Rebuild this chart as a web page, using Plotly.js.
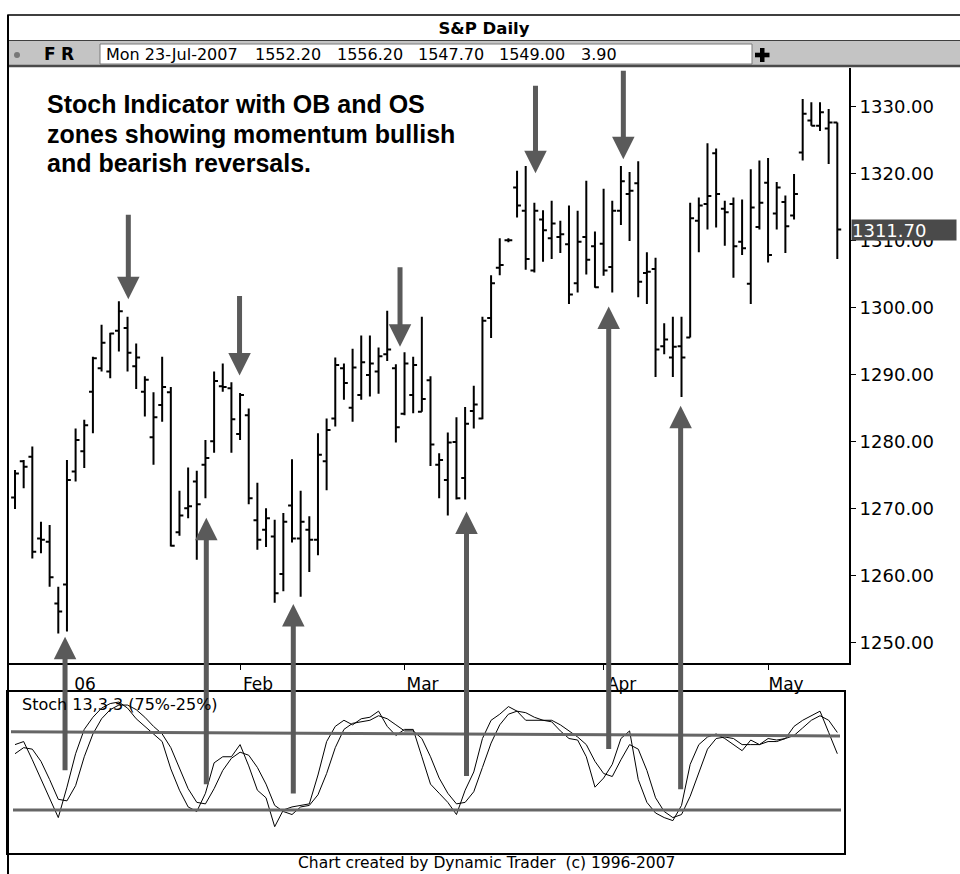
<!DOCTYPE html>
<html><head><meta charset="utf-8">
<script src="https://cdn.plot.ly/plotly-3.0.1.min.js"></script>
<style>html,body{margin:0;padding:0;background:#fff}</style>
</head><body><div id="chart" style="width:960px;height:874px"></div>
<script>
// ---------- DATA ----------
const dates = [
 '2005-12-22','2005-12-23','2005-12-27','2005-12-28','2005-12-29','2005-12-30',
 '2006-01-03','2006-01-04','2006-01-05','2006-01-06','2006-01-09','2006-01-10','2006-01-11','2006-01-12','2006-01-13',
 '2006-01-17','2006-01-18','2006-01-19','2006-01-20','2006-01-23','2006-01-24','2006-01-25','2006-01-26','2006-01-27','2006-01-30','2006-01-31',
 '2006-02-01','2006-02-02','2006-02-03','2006-02-06','2006-02-07','2006-02-08','2006-02-09','2006-02-10','2006-02-13','2006-02-14',
 '2006-02-15','2006-02-16','2006-02-17','2006-02-21','2006-02-22','2006-02-23','2006-02-24','2006-02-27','2006-02-28',
 '2006-03-01','2006-03-02','2006-03-03','2006-03-06','2006-03-07','2006-03-08','2006-03-09','2006-03-10','2006-03-13','2006-03-14',
 '2006-03-15','2006-03-16','2006-03-17','2006-03-20','2006-03-21','2006-03-22','2006-03-23','2006-03-24','2006-03-27','2006-03-28',
 '2006-03-29','2006-03-30','2006-03-31',
 '2006-04-03','2006-04-04','2006-04-05','2006-04-06','2006-04-07','2006-04-10','2006-04-11','2006-04-12','2006-04-13','2006-04-17',
 '2006-04-18','2006-04-19','2006-04-20','2006-04-21','2006-04-24','2006-04-25','2006-04-26','2006-04-27','2006-04-28',
 '2006-05-01','2006-05-02','2006-05-03','2006-05-04','2006-05-05','2006-05-08','2006-05-09','2006-05-10','2006-05-11'
];
const openP = [1271.7,1277.1,1277.8,1265.6,1265.1,1255.9,1258.7,1275.6,1278.6,1287.5,1291.0,1290.5,1296.6,1297.0,1291.3,1287.5,1280.7,1285.5,1287.4,1266.5,1270.1,1274.1,1276.6,1280.1,1288.3,1288.0,1281.2,1284.0,1268.3,1266.9,1265.9,1260.3,1270.5,1265.6,1266.9,1265.4,1277.1,1283.5,1291.0,1285.1,1287.0,1290.0,1290.5,1293.1,1291.0,1284.2,1287.0,1284.5,1289.2,1276.6,1274.3,1280.0,1274.6,1284.6,1283.5,1298.5,1306.0,1310.1,1318.0,1314.5,1305.6,1313.2,1310.4,1310.6,1309.5,1303.7,1310.6,1309.2,1309.6,1306.1,1314.5,1317.0,1318.6,1305.2,1305.8,1294.3,1292.6,1294.3,1295.6,1313.0,1315.5,1323.1,1314.8,1315.5,1309.9,1303.6,1312.1,1318.7,1314.1,1315.8,1313.8,1323.2,1328.0,1327.2,1326.8,1327.7];
const highP = [1275.8,1277.3,1279.3,1268.1,1267.6,1258.4,1277.3,1282.0,1283.3,1292.7,1297.5,1296.3,1301.0,1298.7,1294.7,1289.8,1287.4,1292.7,1288.2,1272.7,1276.2,1275.7,1280.3,1290.5,1291.7,1288.9,1287.3,1285.0,1273.9,1270.1,1268.4,1269.4,1277.4,1272.7,1268.9,1281.3,1283.5,1292.6,1291.7,1293.9,1295.9,1295.9,1294.1,1299.6,1291.6,1293.4,1292.7,1298.7,1289.8,1278.3,1281.4,1283.7,1285.2,1288.4,1298.7,1304.9,1310.4,1310.4,1320.5,1321.2,1315.7,1314.6,1316.0,1313.0,1315.3,1314.5,1319.0,1311.4,1317.8,1316.0,1321.2,1320.3,1321.9,1308.3,1307.5,1297.7,1298.7,1298.7,1315.7,1316.5,1324.6,1323.8,1316.0,1316.5,1316.2,1320.7,1322.0,1322.4,1318.8,1316.8,1320.0,1331.2,1330.7,1330.7,1329.7,1327.7];
const lowP = [1270.0,1273.1,1262.6,1263.4,1258.4,1251.4,1251.7,1274.1,1276.1,1281.3,1290.5,1289.5,1293.5,1290.5,1287.9,1283.8,1276.6,1283.0,1264.4,1266.0,1268.6,1262.4,1271.6,1278.4,1287.5,1278.4,1280.3,1270.7,1263.9,1264.3,1256.0,1257.7,1265.0,1256.9,1260.6,1263.1,1272.8,1282.3,1286.3,1283.0,1286.3,1286.8,1287.2,1292.1,1279.9,1284.0,1284.3,1284.5,1276.4,1271.6,1269.0,1271.4,1271.4,1282.0,1283.4,1295.5,1304.9,1309.8,1313.5,1305.7,1305.3,1306.9,1307.3,1308.2,1300.6,1302.3,1305.0,1303.0,1304.8,1302.3,1312.4,1310.0,1301.6,1300.6,1289.7,1293.1,1289.7,1286.7,1295.6,1308.3,1311.7,1312.0,1309.3,1304.5,1307.9,1300.6,1311.7,1306.8,1311.7,1308.2,1313.2,1322.0,1327.2,1326.4,1321.5,1307.3];
const closeP = [1275.3,1276.3,1263.6,1265.4,1259.8,1254.7,1274.3,1280.3,1282.5,1292.5,1294.8,1296.2,1299.5,1293.3,1292.6,1289.3,1283.7,1288.2,1264.5,1269.0,1270.4,1270.7,1277.6,1289.1,1288.2,1283.4,1287.0,1271.6,1265.4,1268.6,1257.4,1268.1,1265.6,1268.1,1265.4,1278.1,1281.8,1291.5,1288.8,1291.1,1291.9,1291.7,1292.8,1293.8,1282.2,1291.7,1291.5,1286.4,1279.6,1277.3,1279.9,1271.6,1282.7,1285.6,1298.1,1303.7,1306.4,1310.1,1315.3,1307.3,1314.5,1311.6,1312.6,1311.0,1302.0,1309.9,1307.2,1303.1,1305.6,1314.5,1318.9,1317.5,1303.9,1305.4,1293.8,1295.3,1294.2,1292.6,1313.4,1315.3,1316.7,1317.0,1314.3,1309.2,1308.9,1315.0,1315.7,1307.9,1318.0,1312.2,1317.0,1329.0,1327.2,1329.2,1327.7,1311.7];
const stochK = [68,70,58,45,32,20,40,62,78,86,92,95,96,92,85,80,75,70,52,38,27,24,36,56,60,60,68,54,38,33,14,25,27,28,29,48,70,80,84,81,85,86,90,80,74,78,78,60,42,36,30,22,38,50,72,84,88,93,90,84,84,84,83,77,72,71,60,40,46,55,72,77,45,30,23,20,18,28,55,68,73,75,72,68,64,71,68,72,71,72,80,84,87,90,76,62];
const stochD = [62,66,65,57,45,32,31,41,60,75,85,91,94,94,91,86,80,75,66,53,39,30,29,39,51,59,63,61,53,42,28,24,22,27,28,35,49,66,78,82,83,84,87,85,81,77,77,72,60,46,36,29,30,37,53,69,81,88,90,89,86,84,84,81,77,73,68,57,49,47,58,68,65,51,33,24,20,22,34,50,65,72,73,72,68,68,68,70,70,72,74,79,84,87,84,76];
const monthStarts = ['2006-01-03','2006-02-01','2006-03-01','2006-04-03','2006-05-01'];
const monthLabels = ['06','Feb','Mar','Apr','May'];
const priceTicks = [1250,1260,1270,1280,1290,1300,1310,1320,1330];
const lastPrice = 1311.70;
const obLevel = [76.5,73.7];
const osLevel = [25,25];
const quoteFields = ['Mon 23-Jul-2007','1552.20','1556.20','1547.70','1549.00','3.90'];
const noteLines = ['Stoch Indicator with OB and OS','zones showing momentum bullish','and bearish reversals.'];

// ---------- LAYOUT HELPERS ----------
const L=8, R=849, T=68, B=853;
const px = x => (x-L)/(R-L);
const py = y => (B-y)/(B-T);
const FONT = 'DejaVu Sans, Verdana, sans-serif';
const arrowColor = '#5a5a5a';

const traces = [
 {type:'ohlc', x:dates, open:openP, high:highP, low:lowP, close:closeP, xaxis:'x', yaxis:'y',
  increasing:{line:{color:'#000', width:2}}, decreasing:{line:{color:'#000', width:2}},
  tickwidth:0.45, hoverinfo:'skip', showlegend:false},
 {type:'scatter', mode:'lines', x:dates, y:stochK, xaxis:'x2', yaxis:'y2',
  line:{color:'#000', width:1}, hoverinfo:'skip', showlegend:false},
 {type:'scatter', mode:'lines', x:dates, y:stochD, xaxis:'x2', yaxis:'y2',
  line:{color:'#000', width:1}, hoverinfo:'skip', showlegend:false}
];

// arrows: tip in data coordinates (bar index, price), tail offset in px
const upArrows = [[5.78,1250.9,135],[22.1,1268.7,268],[32.15,1255.8,191],[52.16,1269.6,266],[68.59,1300.2,444],[76.9,1285.4,385]];
const downArrows = [[13.09,1301.3,-86],[25.94,1289.9,-81],[44.48,1294.2,-81],[60.13,1320.1,-89],[70.28,1322.2,-90]];

const annotations = [];
upArrows.concat(downArrows).forEach(a => annotations.push({
  x:a[0], y:a[1], xref:'x', yref:'y', text:'', showarrow:true, arrowhead:2, arrowsize:0.9,
  arrowwidth:5, arrowcolor:arrowColor, ax:0, ay:a[2], standoff:0
}));
const noteY = [104,134,163];
noteLines.forEach((t,i) => annotations.push({
  x:px(45), y:py(noteY[i]), xref:'paper', yref:'paper', xanchor:'left', yanchor:'middle',
  text:'<b>'+t+'</b>', showarrow:false, font:{family:'Liberation Sans, Arial, sans-serif', size:25, color:'#000'}
}));
const quoteX = [104,253,335,416,497,579];
quoteFields.forEach((t,i) => annotations.push({
  x:px(quoteX[i]), y:py(54.5), xref:'paper', yref:'paper', xanchor:'left', yanchor:'middle',
  text:t, showarrow:false, font:{family:FONT, size:16, color:'#000'}
}));
annotations.push({x:px(42), y:py(54.5), xref:'paper', yref:'paper', xanchor:'left', yanchor:'middle',
  text:'<b>F</b>', showarrow:false, font:{family:FONT, size:17, color:'#000'}});
annotations.push({x:px(59), y:py(54.5), xref:'paper', yref:'paper', xanchor:'left', yanchor:'middle',
  text:'<b>R</b>', showarrow:false, font:{family:FONT, size:17, color:'#000'}});
annotations.push({x:px(20), y:py(704), xref:'paper', yref:'paper', xanchor:'left', yanchor:'middle',
  text:'Stoch 13,3,3 (75%-25%)', showarrow:false, font:{family:FONT, size:16, color:'#000'}});
annotations.push({x:px(486), y:py(863), xref:'paper', yref:'paper', xanchor:'center', yanchor:'middle',
  text:'Chart created by Dynamic Trader\u00a0\u00a0(c) 1996-2007', showarrow:false, font:{family:FONT, size:15.5, color:'#000'}});
annotations.push({x:1, xshift:2, y:lastPrice, xref:'paper', yref:'y', xanchor:'left', yanchor:'middle',
  text:lastPrice.toFixed(2), showarrow:false, align:'left', width:104, height:20, borderpad:0,
  bgcolor:'#4a4a4a', font:{family:FONT, size:18, color:'#fff'}});

const shapes = [
 // title box
 {type:'rect', xref:'paper', yref:'paper', x0:px(8), x1:px(962), y0:py(41), y1:py(15), fillcolor:'#fff', line:{color:'#000', width:1.5}, layer:'below'},
 // toolbar
 {type:'rect', xref:'paper', yref:'paper', x0:px(8), x1:px(962), y0:py(66), y1:py(41), fillcolor:'#c4c4c4', line:{width:0}, layer:'below'},
 {type:'line', xref:'paper', yref:'paper', x0:px(8), x1:px(962), y0:py(66), y1:py(66), line:{color:'#4a4a4a', width:2.5}},
 {type:'rect', xref:'paper', yref:'paper', x0:px(100), x1:px(752), y0:py(64), y1:py(44), fillcolor:'#fff', line:{color:'#7a7a7a', width:1}, layer:'below'},
 {type:'circle', xref:'paper', yref:'paper', x0:px(14), x1:px(20), y0:py(58), y1:py(52), fillcolor:'#777', line:{width:0}},
 {type:'rect', xref:'paper', yref:'paper', x0:px(760), x1:px(764.5), y0:py(62), y1:py(48), fillcolor:'#000', line:{width:0}},
 {type:'rect', xref:'paper', yref:'paper', x0:px(755), x1:px(769.5), y0:py(57.3), y1:py(52.7), fillcolor:'#000', line:{width:0}},
 // left frame line
 {type:'line', xref:'paper', yref:'paper', x0:px(8), x1:px(8), y0:py(15), y1:py(880), line:{color:'#000', width:2}},
 // OB / OS levels
 {type:'line', xref:'paper', yref:'y2', x0:px(11), x1:px(840), y0:obLevel[0], y1:obLevel[1], line:{color:'#666', width:3}},
 {type:'line', xref:'paper', yref:'y2', x0:px(13), x1:px(841), y0:osLevel[0], y1:osLevel[1], line:{color:'#666', width:3}}
];

const layout = {
  width:960, height:874, margin:{l:L, r:960-R, t:T, b:874-B, pad:0},
  paper_bgcolor:'#fff', plot_bgcolor:'#fff', showlegend:false,
  title:{text:'<b>S&amp;P Daily</b>', font:{family:FONT, size:16.5, color:'#000'}, x:484/960, xanchor:'center', xref:'container', y:1-28/874, yanchor:'middle', yref:'container'},
  xaxis:{type:'category', domain:[0,1], anchor:'y', range:[-0.81, 96.35], rangeslider:{visible:false},
    tickmode:'array', tickvals:monthStarts.map(d => dates.indexOf(d)), ticktext:monthLabels,
    ticks:'outside', ticklen:5, tickcolor:'#000', tickwidth:1, ticklabelshift:18,
    showline:true, linecolor:'#000', linewidth:2, showgrid:false, zeroline:false,
    tickfont:{family:FONT, size:17, color:'#000'}, fixedrange:true},
  yaxis:{domain:[(B-663)/(B-T),1], anchor:'x', side:'right', range:[1247.0,1335.82],
    tickmode:'array', tickvals:priceTicks, tickformat:'.2f', ticks:'outside', ticklen:5, tickcolor:'#000',
    showline:true, linecolor:'#000', linewidth:2, showgrid:false, zeroline:false,
    tickfont:{family:FONT, size:18, color:'#000'}},
  xaxis2:{type:'category', domain:[0,(844-L)/(R-L)], anchor:'y2', range:[-0.81, 95.77],
    showticklabels:false, ticks:'', showline:true, mirror:true, linecolor:'#000', linewidth:2, showgrid:false, zeroline:false},
  yaxis2:{domain:[0,(B-692)/(B-T)], anchor:'x2', range:[-3.3,102.6],
    showticklabels:false, ticks:'', showline:true, mirror:true, linecolor:'#000', linewidth:2, showgrid:false, zeroline:false},
  shapes:shapes, annotations:annotations
};
Plotly.newPlot('chart', traces, layout, {displayModeBar:false, staticPlot:true});
</script></body></html>
